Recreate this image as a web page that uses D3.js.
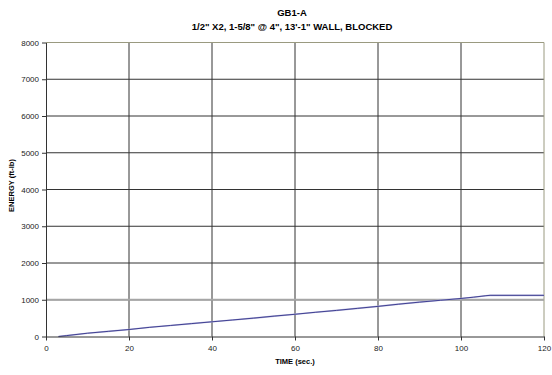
<!DOCTYPE html>
<html>
<head>
<meta charset="utf-8">
<script src="https://cdn.jsdelivr.net/npm/d3@7"></script>
<style>
    body { margin: 0; background: #fff; }
    text { font-family: "Liberation Sans", Arial, sans-serif; }
</style>
</head>
<body>
<div id="chart-area"></div>
<script>
// chart values
var title_lines = ["GB1-A", "1/2\" X2, 1-5/8\" @ 4\", 13'-1\" WALL, BLOCKED"];
var time_sec = [3, 5, 10, 15, 20, 25, 30, 35, 40, 45, 50, 55, 60, 65, 70, 75, 80, 85, 90, 95, 100, 103, 106, 107, 120];
var energy = [0, 25, 90, 140, 190, 250, 300, 350, 400, 450, 500, 555, 605, 660, 710, 765, 820, 880, 935, 985, 1035, 1070, 1110, 1120, 1120];
var limit_time = [0, 120];
var limit_energy = [1000, 1000];
var x_ticks = [0, 20, 40, 60, 80, 100, 120];
var y_ticks = [0, 1000, 2000, 3000, 4000, 5000, 6000, 7000, 8000];

var margin = {top: 42.5, right: 8, bottom: 38.5, left: 46},
    width = 552 - margin.left - margin.right,
    height = 375 - margin.top - margin.bottom;

var root = d3.select("#chart-area").append("svg")
    .attr("width", 552)
    .attr("height", 375);

root.selectAll(".title")
    .data(title_lines)
    .enter()
    .append("text")
    .attr("x", 292)
    .attr("y", function (d, i) { return 15.5 + i * 14; })
    .attr("text-anchor", "middle")
    .attr("font-size", "9.5px")
    .attr("font-weight", "bold")
    .text(function (d) { return d; });

var svg = root.append("g")
    .attr("transform", "translate(" + margin.left + "," + margin.top + ")");

var xScale = d3.scaleLinear().domain([0, 120]).range([0, width]);
var yScale = d3.scaleLinear().domain([0, 8000]).range([height, 0]);

// gridlines
svg.append("g")
    .selectAll("line")
    .data(y_ticks.slice(1, -1))
    .enter()
    .append("line")
    .attr("x1", 0).attr("x2", width)
    .attr("y1", function (d) { return yScale(d); })
    .attr("y2", function (d) { return yScale(d); })
    .attr("stroke", "#333")
    .attr("stroke-width", 1);
svg.append("g")
    .selectAll("line")
    .data(x_ticks.slice(1, -1))
    .enter()
    .append("line")
    .attr("y1", 0).attr("y2", height)
    .attr("x1", function (d) { return xScale(d); })
    .attr("x2", function (d) { return xScale(d); })
    .attr("stroke", "#333")
    .attr("stroke-width", 1);

// plot area border (top/right)
svg.append("path")
    .attr("d", "M0,0H" + width + "V" + height)
    .attr("fill", "none")
    .attr("stroke", "#9a9a80")
    .attr("stroke-width", 1);

// limit line
var line = d3.line()
    .x(function (d) { return xScale(d[0]); })
    .y(function (d) { return yScale(d[1]); });

svg.append("path")
    .datum(d3.zip(limit_time, limit_energy))
    .attr("d", line)
    .attr("fill", "none")
    .attr("stroke", "#a6a6a6")
    .attr("stroke-width", 2);

svg.append("path")
    .datum(d3.zip(time_sec, energy))
    .attr("d", line)
    .attr("fill", "none")
    .attr("stroke", "#b8b8dd")
    .attr("stroke-width", 1.6);
svg.append("path")
    .datum(d3.zip(time_sec, energy))
    .attr("d", line)
    .attr("fill", "none")
    .attr("stroke", "#33338a")
    .attr("stroke-width", 0.9);

// axes
var xAxis = svg.append("g")
    .attr("transform", "translate(0," + height + ")")
    .call(d3.axisBottom(xScale).tickValues(x_ticks).tickSizeOuter(0).tickSizeInner(4).tickPadding(5));
var yAxis = svg.append("g")
    .call(d3.axisLeft(yScale).tickValues(y_ticks).tickSizeOuter(0).tickSizeInner(4).tickPadding(3).tickFormat(d3.format("d")));
[xAxis, yAxis].forEach(function (ax) {
    ax.select(".domain").attr("stroke", "#333");
    ax.selectAll(".tick line").attr("stroke", "#333");
    ax.selectAll("text")
        .attr("font-size", "8px")
        .attr("fill", "#222")
        .style("font-family", "\"Liberation Sans\", Arial, sans-serif");
});

svg.append("text")
    .attr("x", width / 2)
    .attr("y", height + 27)
    .attr("text-anchor", "middle")
    .attr("font-size", "7.5px")
    .attr("font-weight", "bold")
    .text("TIME (sec.)");
svg.append("text")
    .attr("transform", "rotate(-90)")
    .attr("x", -height / 2 + 4)
    .attr("y", -margin.left + 14)
    .attr("text-anchor", "middle")
    .attr("font-size", "7.5px")
    .attr("font-weight", "bold")
    .text("ENERGY (ft-lb)");
</script>
</body>
</html>
